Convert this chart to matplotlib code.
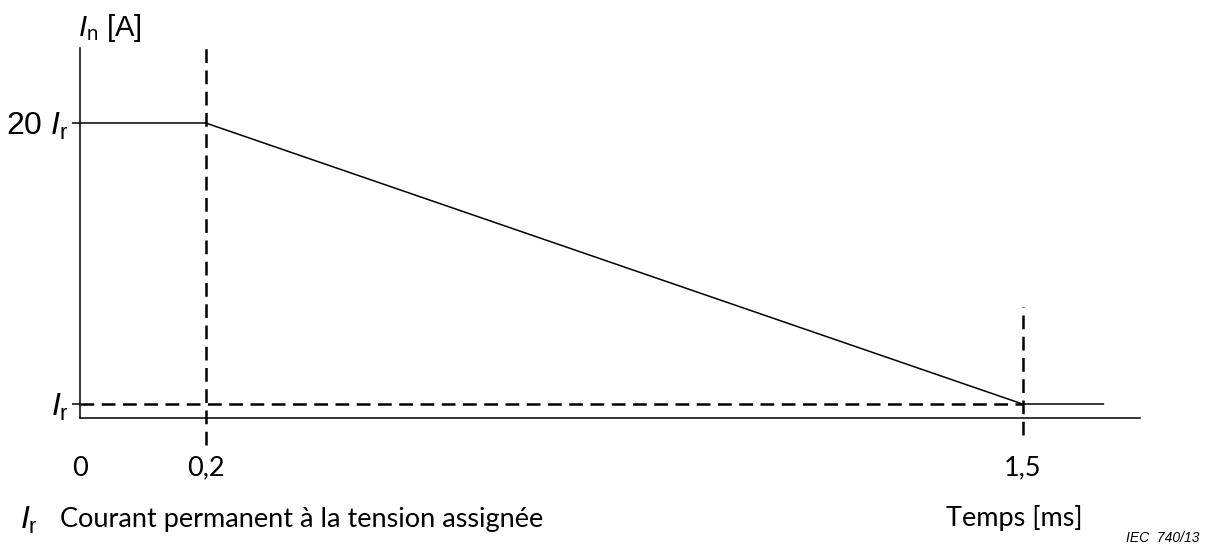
import matplotlib
matplotlib.use('Agg')
import matplotlib.pyplot as plt

# Current profile (Ir = 1, 20 Ir = 20), time in ms
time = [0, 0.2, 1.5, 1.63]
current = [20, 20, 1, 1]

# dashed guide lines
vlines_x = [0.2, 1.5]
vlines_y = [(-1.77, 25.27), (-1.10, 7.56)]
hline_y = 1
hline_x = (0, 1.5)

xticks = [0, 0.2, 1.5]
xtick_labels = ['0', '0,2', '1,5']
yticks = [1, 20]
ytick_labels = [r'$I_\mathrm{r}$', r'20 $I_\mathrm{r}$']

plt.rcParams['mathtext.fontset'] = 'custom'
plt.rcParams['mathtext.rm'] = 'Liberation Sans'
plt.rcParams['mathtext.it'] = 'Liberation Sans:italic'

W, H = 1216, 546
fig = plt.figure(figsize=(W / 100, H / 100), dpi=100)
ax = fig.add_axes([80 / W, 1 - 418 / H, (1140 - 80) / W, (418 - 48) / H])

dash = (0, (5.5, 3))
ax.plot(time, current, color='black', lw=1.1, solid_capstyle='butt')
for xv, (y0, y1) in zip(vlines_x, vlines_y):
    ax.plot([xv, xv], [y0, y1], color='black', lw=1.8, linestyle=dash, clip_on=False)
ax.plot(hline_x, [hline_y, hline_y], color='black', lw=1.8, linestyle=dash, clip_on=False)

ax.set_xlim(0, 1.687)
ax.set_ylim(0.053, 25.07)

for s in ['top', 'right']:
    ax.spines[s].set_visible(False)
for s in ['left', 'bottom']:
    ax.spines[s].set_linewidth(1.1)

ax.set_xticks(xticks)
ax.set_xticklabels(xtick_labels, family='Lato', fontsize=19.5)
ax.tick_params(axis='x', length=0, pad=27)
ax.set_yticks(yticks)
ax.set_yticklabels(ytick_labels, family='Liberation Sans', fontsize=23)
ax.tick_params(axis='y', length=6, width=1.1, pad=2)

fig.text(78 / W, 1 - 28 / H, r'$I_\mathrm{n}$ [A]', family='Liberation Sans',
         fontsize=21, va='center', ha='left')
fig.text(1014 / W, 1 - 518 / H, 'Temps [ms]', family='Lato', fontsize=19.5,
         va='center', ha='center')
fig.text(1126 / W, 1 - 538 / H, 'IEC  740/13', family='Liberation Sans',
         style='italic', fontsize=10, va='center', ha='left')
fig.text(20 / W, 1 - 520 / H, r'$I_\mathrm{r}$', family='Liberation Sans',
         fontsize=23, va='center', ha='left')
fig.text(60 / W, 1 - 520 / H, 'Courant permanent à la tension assignée',
         family='Lato', fontsize=19.5, va='center', ha='left')

fig.savefig('out.png', dpi=100)
